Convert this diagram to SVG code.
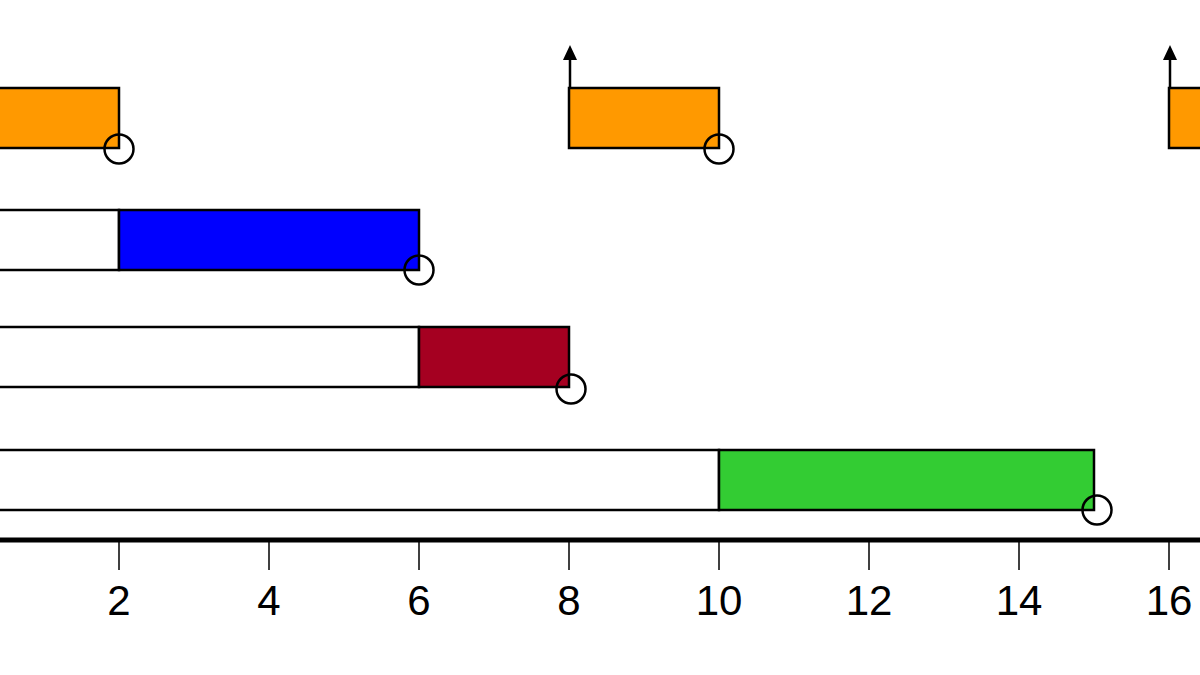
<svg xmlns="http://www.w3.org/2000/svg" width="1200" height="675" viewBox="0 0 1200 675">
<style>
.bar{stroke:#000;stroke-width:2.5}
.w{fill:#fff}
.o{fill:#FF9900}
.b{fill:#0000FF}
.r{fill:#A50021}
.g{fill:#33CC33}
.c{fill:none;stroke:#000;stroke-width:2.5}
.tick{stroke:#000;stroke-width:1.5}
.lbl{font-family:"Liberation Sans",Arial,sans-serif;font-size:42px;fill:#000;text-anchor:middle}
</style>
<defs>
<marker id="ah" markerWidth="8" markerHeight="8" refX="7" refY="4" orient="auto" markerUnits="userSpaceOnUse" viewBox="0 0 8 8">
<path d="M0,0 L8,4 L0,8 z" fill="#000"/>
</marker>
</defs>
<rect width="1200" height="675" fill="#fff"/>
<g id="task1">
<rect class="bar o" x="-40" y="88" width="159" height="60"/>
<rect class="bar o" x="569" y="88" width="150" height="60"/>
<rect class="bar o" x="1169" y="88" width="150" height="60"/>
<circle class="c" cx="119" cy="149" r="14.5"/>
<circle class="c" cx="719" cy="149" r="14.5"/>
</g>
<g id="task2">
<rect class="bar w" x="-40" y="210" width="159" height="60"/>
<rect class="bar b" x="119" y="210" width="300" height="60"/>
<circle class="c" cx="419" cy="270" r="14.5"/>
</g>
<g id="task3">
<rect class="bar w" x="-40" y="327" width="459" height="60"/>
<rect class="bar r" x="419" y="327" width="150" height="60"/>
<circle class="c" cx="571" cy="389" r="14.5"/>
</g>
<g id="task4">
<rect class="bar w" x="-40" y="450" width="759" height="60"/>
<rect class="bar g" x="719" y="450" width="375" height="60"/>
<circle class="c" cx="1097" cy="510" r="14.5"/>
</g>
<g id="connectors">
<path d="M570,88 V60" stroke="#000" stroke-width="2.5" fill="none"/>
<path d="M570,60 L577,60 L570,45 L563,60 z" fill="#000"/>
<path d="M1170,88 V60" stroke="#000" stroke-width="2.5" fill="none"/>
<path d="M1170,60 L1177,60 L1170,45 L1163,60 z" fill="#000"/>
</g>
<g id="axis">
<line x1="0" y1="540" x2="1200" y2="540" stroke="#000" stroke-width="5"/>
<line class="tick" x1="119" y1="540" x2="119" y2="570"/>
<line class="tick" x1="269" y1="540" x2="269" y2="570"/>
<line class="tick" x1="419" y1="540" x2="419" y2="570"/>
<line class="tick" x1="569" y1="540" x2="569" y2="570"/>
<line class="tick" x1="719" y1="540" x2="719" y2="570"/>
<line class="tick" x1="869" y1="540" x2="869" y2="570"/>
<line class="tick" x1="1019" y1="540" x2="1019" y2="570"/>
<line class="tick" x1="1169" y1="540" x2="1169" y2="570"/>
<text class="lbl" x="119" y="615">2</text>
<text class="lbl" x="269" y="615">4</text>
<text class="lbl" x="419" y="615">6</text>
<text class="lbl" x="569" y="615">8</text>
<text class="lbl" x="719" y="615">10</text>
<text class="lbl" x="869" y="615">12</text>
<text class="lbl" x="1019" y="615">14</text>
<text class="lbl" x="1169" y="615">16</text>
</g>
</svg>
